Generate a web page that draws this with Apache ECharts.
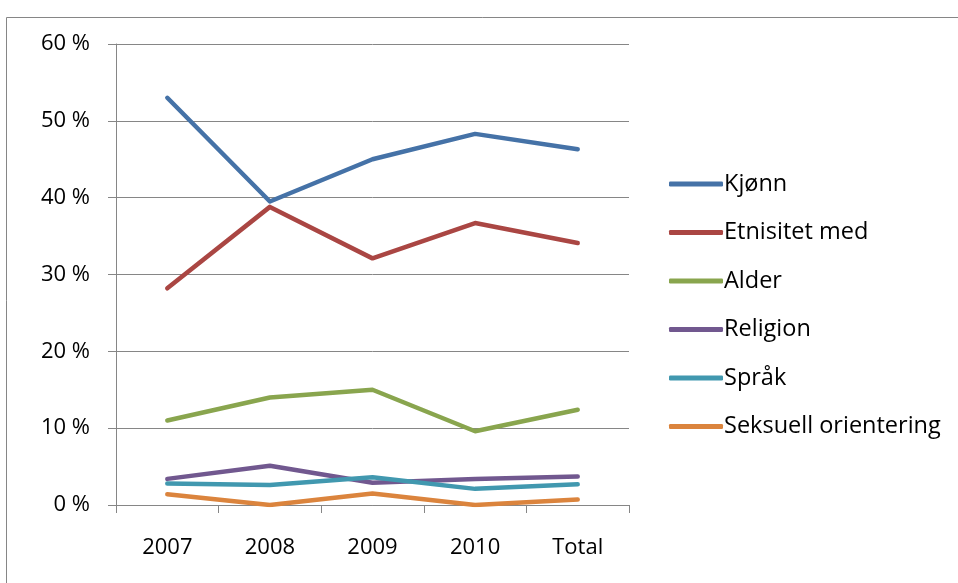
<!DOCTYPE html>
<html><head><meta charset="utf-8">
<script src="https://cdn.jsdelivr.net/npm/echarts@6/dist/echarts.min.js"></script>
<style>html,body{margin:0;padding:0;background:#fff}#c{width:958px;height:583px}</style>
</head><body><div id="c"></div>
<script>
const categories = ['2007', '2008', '2009', '2010', 'Total'];
const seriesNames = ['Kjønn', 'Etnisitet med', 'Alder', 'Religion', 'Språk', 'Seksuell orientering'];
const kjonn = [53.0, 39.5, 45.0, 48.3, 46.3];
const etnisitet = [28.2, 38.8, 32.1, 36.7, 34.1];
const alder = [11.0, 14.0, 15.0, 9.6, 12.4];
const religion = [3.4, 5.1, 2.9, 3.4, 3.7];
const sprak = [2.8, 2.6, 3.6, 2.1, 2.7];
const seksuell = [1.4, 0.0, 1.5, 0.0, 0.7];
const colors = ['#4572A7', '#AA4643', '#89A54E', '#71588F', '#4198AF', '#DB843D'];
const yTicks = { min: 0, max: 60, interval: 10 };

const seriesData = [kjonn, etnisitet, alder, religion, sprak, seksuell];
const font = '"Open Sans", sans-serif';
const chart = echarts.init(document.getElementById('c'), null, { renderer: 'canvas' });
chart.setOption({
  animation: false,
  backgroundColor: '#fff',
  graphic: [{
    type: 'rect', left: 4, top: 15, shape: { width: 1000, height: 600 },
    style: { fill: 'none', stroke: '#868686', lineWidth: 1 }, silent: true
  }],
  grid: { left: 116, right: 329, top: 44, bottom: 78, containLabel: false },
  legend: {
    orient: 'vertical', left: 664, top: 167,
    icon: 'roundRect', itemWidth: 54, itemHeight: 5, itemGap: 24.5,
    data: seriesNames,
    textStyle: { fontFamily: font, fontSize: 23.5, color: '#000', padding: [0, 0, 0, -4] }
  },
  xAxis: {
    type: 'category', data: categories, boundaryGap: true,
    axisLine: { lineStyle: { color: '#868686', width: 1 } },
    axisTick: { show: true, length: 8, lineStyle: { color: '#868686' } },
    axisLabel: { fontFamily: font, fontSize: 22, color: '#000', margin: 32 },
    splitLine: { show: false }
  },
  yAxis: {
    type: 'value', min: yTicks.min, max: yTicks.max, interval: yTicks.interval,
    axisLine: { show: true, lineStyle: { color: '#868686', width: 1 } },
    axisTick: { show: true, length: 8, lineStyle: { color: '#868686' } },
    axisLabel: { fontFamily: font, fontSize: 22, color: '#000', margin: 26, formatter: v => v + ' %' },
    splitLine: { show: true, lineStyle: { color: '#868686', width: 1 } }
  },
  series: seriesNames.map((n, i) => ({
    name: n, type: 'line', data: seriesData[i], symbol: 'none', showSymbol: false,
    lineStyle: { color: colors[i], width: 4.5, cap: 'round', join: 'round' },
    itemStyle: { color: colors[i] }
  }))
});
</script></body></html>
